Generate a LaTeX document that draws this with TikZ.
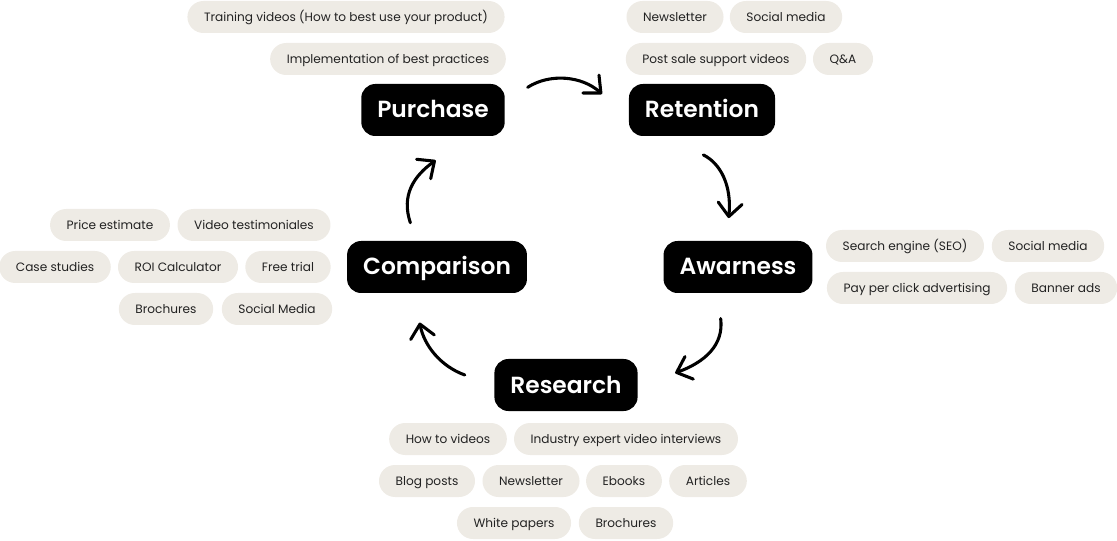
\documentclass[tikz,border=0pt]{standalone}
\usepackage{fontspec}
\setmainfont{Poppins}
\IfFontExistsTF{Poppins SemiBold}{\newfontfamily\stagefont{Poppins SemiBold}}{\newfontfamily\stagefont{Poppins}[UprightFont=*-Bold]}
\usepackage{xcolor}
\usetikzlibrary{positioning,arrows.meta}
\definecolor{pillbg}{HTML}{EEEBE5}
\definecolor{pilltext}{HTML}{222222}

\begin{document}
\begin{tikzpicture}[x=0.75pt, y=-0.75pt,
  stage/.style={fill=black, text=white, rounded corners=10.5pt, minimum height=39pt, inner xsep=12pt, text height=13pt, text depth=1pt, font=\fontsize{17.5}{20}\stagefont},
  tag/.style={fill=pillbg, text=pilltext, rounded corners=12pt, minimum height=24pt, inner xsep=12.5pt, text height=8pt, text depth=1.5pt, font=\fontsize{9.1}{11}\selectfont},
  arr/.style={-{Straight Barb[length=10pt, width=18pt, line cap=round, line join=round]}, line width=2.3pt, line cap=round}
]
\useasboundingbox (0,0) rectangle (1117,541);

% stages
\node[stage] (pur) at (433,110) {Purchase};
\node[stage] (ret) at (702,110) {Retention};
\node[stage] (awa) at (738,267) {Awarness};
\node[stage] (res) at (566,385) {Research};
\node[stage] (cmp) at (437,267) {Comparison};

% purchase tags
\node[tag] (p1) at (346,17) {Training videos (How to best use your product)};
\node[tag] (p2) at (388,59) {Implementation of best practices};

% retention tags
\node[tag] (r1) at (675,17) {Newsletter};
\node[tag] (r2) at (786,17) {Social media};
\node[tag] (r3) at (716,59) {Post sale support videos};
\node[tag] (r4) at (843,59) {Q\&A};

% awareness tags
\node[tag] (a1) at (905,246) {Search engine (SEO)};
\node[tag] (a2) at (1048,246) {Social media};
\node[tag] (a3) at (917,288) {Pay per click advertising};
\node[tag] (a4) at (1066,288) {Banner ads};

% comparison tags
\node[tag] (c1) at (110,225) {Price estimate};
\node[tag] (c2) at (254,225) {Video testimoniales};
\node[tag] (c3) at (55,267) {Case studies};
\node[tag] (c4) at (178,267) {ROI Calculator};
\node[tag] (c5) at (288,267) {Free trial};
\node[tag] (c6) at (166,309) {Brochures};
\node[tag] (c7) at (277,309) {Social Media};

% research tags
\node[tag] (s1) at (448,439) {How to videos};
\node[tag] (s2) at (626,439) {Industry expert video interviews};
\node[tag] (s3) at (427,481) {Blog posts};
\node[tag] (s4) at (531,481) {Newsletter};
\node[tag] (s5) at (624,481) {Ebooks};
\node[tag] (s6) at (708,481) {Articles};
\node[tag] (s7) at (514,523) {White papers};
\node[tag] (s8) at (626,523) {Brochures};

% arrow ends
\coordinate (pur-out) at ([xshift=17pt, yshift=17pt]pur.east);
\coordinate (ret-in) at ([xshift=-20pt, yshift=12pt]ret.west);
\coordinate (ret-out) at ([xshift=1pt, yshift=-14pt]ret.south);
\coordinate (awa-in) at ([xshift=-7pt, yshift=17pt]awa.north);
\coordinate (awa-out) at ([xshift=-13pt, yshift=-19pt]awa.south);
\coordinate (res-in) at ([xshift=28pt, yshift=9pt]res.east);
\coordinate (res-out) at ([xshift=-22pt, yshift=7.5pt]res.west);
\coordinate (cmp-in) at ([xshift=-13pt, yshift=-22pt]cmp.south);
\coordinate (cmp-out) at ([xshift=-20pt, yshift=13.5pt]cmp.north);
\coordinate (pur-in) at ([xshift=2pt, yshift=-18pt]pur.south);

\draw[arr] (pur-out) .. controls (550,73) and (582,76) .. (ret-in);
\draw[arr] (ret-out) .. controls (720,163) and (732,185) .. (awa-in);
\draw[arr] (awa-out) .. controls (724,345) and (705,362) .. (res-in);
\draw[arr] (res-out) .. controls (440,366) and (424,345) .. (cmp-in);
\draw[arr] (cmp-out) .. controls (401,195) and (414,176) .. (pur-in);
\end{tikzpicture}
\end{document}
